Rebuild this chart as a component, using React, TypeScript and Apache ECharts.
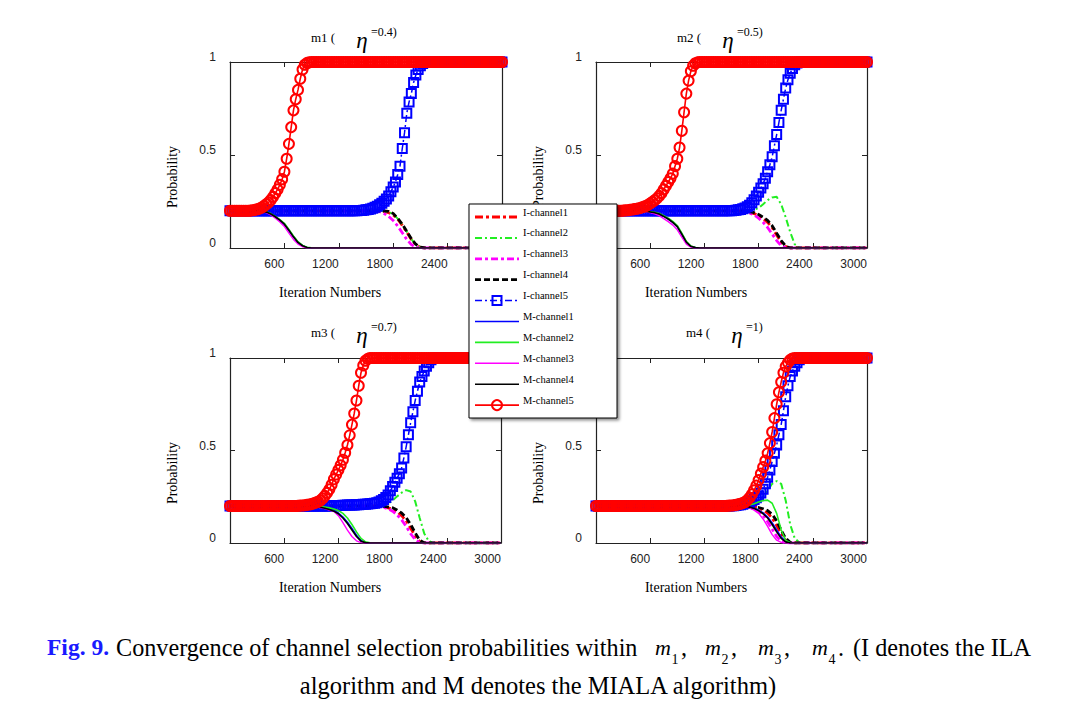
import React, { useEffect, useRef } from 'react';
import * as echarts from 'echarts';

// Iteration numbers for the plain-line series (step 50)
const ITER = [
  0, 50, 100, 150, 200, 250, 300, 350, 400, 450,
  500, 550, 600, 650, 700, 750, 800, 850, 900, 950,
  1000, 1050, 1100, 1150, 1200, 1250, 1300, 1350, 1400, 1450,
  1500, 1550, 1600, 1650, 1700, 1750, 1800, 1850, 1900, 1950,
  2000, 2050, 2100, 2150, 2200, 2250, 2300, 2350, 2400, 2450,
  2500, 2550, 2600, 2650, 2700, 2750, 2800, 2850, 2900, 2950, 3000,
];
// Iteration numbers for the marker series (step 25)
const ITER_M = [
  0, 25, 50, 75, 100, 125, 150, 175, 200, 225, 250, 275, 300, 325, 350, 375, 400, 425, 450, 475,
  500, 525, 550, 575, 600, 625, 650, 675, 700, 725, 750, 775, 800, 825, 850, 875, 900, 925, 950, 975,
  1000, 1025, 1050, 1075, 1100, 1125, 1150, 1175, 1200, 1225, 1250, 1275, 1300, 1325, 1350, 1375, 1400, 1425, 1450, 1475,
  1500, 1525, 1550, 1575, 1600, 1625, 1650, 1675, 1700, 1725, 1750, 1775, 1800, 1825, 1850, 1875, 1900, 1925, 1950, 1975,
  2000, 2025, 2050, 2075, 2100, 2125, 2150, 2175, 2200, 2225, 2250, 2275, 2300, 2325, 2350, 2375, 2400, 2425, 2450, 2475,
  2500, 2525, 2550, 2575, 2600, 2625, 2650, 2675, 2700, 2725, 2750, 2775, 2800, 2825, 2850, 2875, 2900, 2925, 2950, 2975, 3000,
];

// ---------- m1 (eta = 0.4) ----------
const P1_I1 = [
  .2, .2, .2, .2, .2, .2, .2, .2, .2, .2,
  .2, .2, .2, .2, .2, .2, .2, .2, .2, .2,
  .2, .2, .2, .2, .2, .2, .2, .2, .2, .2,
  .2, .2, .2, .199, .196, .19, .178, .155, .122, .085,
  .046, .017, .003, 0, 0, 0, 0, 0, 0, 0,
  0, 0, 0, 0, 0, 0, 0, 0, 0, 0, 0,
];
const P1_I2 = [
  .2, .2, .2, .2, .2, .2, .2, .2, .2, .2,
  .2, .2, .2, .2, .2, .2, .2, .2, .2, .2,
  .2, .2, .2, .2, .2, .2, .2, .2, .2, .2,
  .2, .2, .2, .2, .198, .193, .182, .158, .126, .088,
  .048, .018, .004, 0, 0, 0, 0, 0, 0, 0,
  0, 0, 0, 0, 0, 0, 0, 0, 0, 0, 0,
];
const P1_I3 = [
  .2, .2, .2, .2, .2, .2, .2, .2, .2, .2,
  .2, .2, .2, .2, .2, .2, .2, .2, .2, .2,
  .2, .2, .2, .2, .2, .2, .2, .2, .2, .2,
  .2, .2, .199, .195, .185, .17, .148, .118, .082, .046,
  .018, .004, 0, 0, 0, 0, 0, 0, 0, 0,
  0, 0, 0, 0, 0, 0, 0, 0, 0, 0, 0,
];
const P1_I4 = [
  .2, .2, .2, .2, .2, .2, .2, .2, .2, .2,
  .2, .2, .2, .2, .2, .2, .2, .2, .2, .2,
  .2, .2, .2, .2, .2, .2, .2, .2, .2, .2,
  .2, .2, .2, .2, .2, .197, .185, .16, .128, .09,
  .05, .02, .004, 0, 0, 0, 0, 0, 0, 0,
  0, 0, 0, 0, 0, 0, 0, 0, 0, 0, 0,
];
const P1_I5 = [
  .2, .2, .2, .2, .2, .2, .2, .2, .2, .2, .2, .2, .2, .2, .2, .2, .2, .2, .2, .2,
  .2, .2, .2, .2, .2, .2, .2, .2, .2, .2, .2, .2, .2, .2, .2, .2, .2, .2, .2, .2,
  .2, .2, .2, .2, .2, .2, .2, .2, .2, .2, .2, .2, .2, .2, .2, .2, .2, .201, .202, .203,
  .205, .207, .21, .214, .219, .225, .232, .241, .252, .264, .279, .303, .328, .355, .395, .44, .535, .62, .725, .785,
  .83, .89, .93, .96, .98, .992, .998, 1, 1, 1, 1, 1, 1, 1, 1, 1, 1, 1, 1, 1,
  1, 1, 1, 1, 1, 1, 1, 1, 1, 1, 1, 1, 1, 1, 1, 1, 1, 1, 1, 1, 1,
];
const P1_M1 = [
  .2, .2, .2, .2, .2, .2, .2, .198, .193, .183,
  .168, .15, .127, .094, .06, .03, .012, .003, 0, 0,
  0, 0, 0, 0, 0, 0, 0, 0, 0, 0,
  0, 0, 0, 0, 0, 0, 0, 0, 0, 0,
  0, 0, 0, 0, 0, 0, 0, 0, 0, 0,
  0, 0, 0, 0, 0, 0, 0, 0, 0, 0, 0,
];
const P1_M2 = [
  .2, .2, .2, .2, .2, .2, .2, .198, .194, .185,
  .17, .153, .133, .1, .065, .034, .014, .004, .001, 0,
  0, 0, 0, 0, 0, 0, 0, 0, 0, 0,
  0, 0, 0, 0, 0, 0, 0, 0, 0, 0,
  0, 0, 0, 0, 0, 0, 0, 0, 0, 0,
  0, 0, 0, 0, 0, 0, 0, 0, 0, 0, 0,
];
const P1_M3 = [
  .2, .2, .2, .2, .2, .2, .2, .197, .19, .178,
  .16, .14, .115, .08, .046, .021, .007, .001, 0, 0,
  0, 0, 0, 0, 0, 0, 0, 0, 0, 0,
  0, 0, 0, 0, 0, 0, 0, 0, 0, 0,
  0, 0, 0, 0, 0, 0, 0, 0, 0, 0,
  0, 0, 0, 0, 0, 0, 0, 0, 0, 0, 0,
];
const P1_M4 = [
  .2, .2, .2, .2, .2, .2, .2, .198, .193, .183,
  .168, .15, .128, .095, .06, .03, .012, .003, 0, 0,
  0, 0, 0, 0, 0, 0, 0, 0, 0, 0,
  0, 0, 0, 0, 0, 0, 0, 0, 0, 0,
  0, 0, 0, 0, 0, 0, 0, 0, 0, 0,
  0, 0, 0, 0, 0, 0, 0, 0, 0, 0, 0,
];
const P1_M5 = [
  .2, .2, .2, .2, .2, .2, .2, .2, .2, .201, .203, .205, .208, .212, .218, .226, .235, .245, .258, .275,
  .295, .315, .34, .37, .41, .48, .56, .65, .74, .8, .85, .91, .96, .985, .995, .998, 1, 1, 1, 1,
  1, 1, 1, 1, 1, 1, 1, 1, 1, 1, 1, 1, 1, 1, 1, 1, 1, 1, 1, 1,
  1, 1, 1, 1, 1, 1, 1, 1, 1, 1, 1, 1, 1, 1, 1, 1, 1, 1, 1, 1,
  1, 1, 1, 1, 1, 1, 1, 1, 1, 1, 1, 1, 1, 1, 1, 1, 1, 1, 1, 1,
  1, 1, 1, 1, 1, 1, 1, 1, 1, 1, 1, 1, 1, 1, 1, 1, 1, 1, 1, 1, 1,
];

// ---------- m2 (eta = 0.5) ----------
const P2_I1 = [
  .2, .2, .2, .2, .2, .2, .2, .2, .2, .2,
  .2, .2, .2, .2, .2, .2, .2, .2, .2, .2,
  .2, .2, .2, .2, .2, .2, .2, .2, .2, .2,
  .2, .2, .2, .199, .193, .185, .175, .158, .138, .11,
  .07, .032, .008, 0, 0, 0, 0, 0, 0, 0,
  0, 0, 0, 0, 0, 0, 0, 0, 0, 0, 0,
];
const P2_I2 = [
  .2, .2, .2, .2, .2, .2, .2, .2, .2, .2,
  .2, .2, .2, .2, .2, .2, .2, .2, .2, .2,
  .2, .2, .2, .2, .2, .2, .2, .2, .2, .2,
  .2, .2, .2, .2, .201, .205, .215, .235, .258, .272,
  .275, .235, .165, .085, .02, .002, 0, 0, 0, 0,
  0, 0, 0, 0, 0, 0, 0, 0, 0, 0, 0,
];
const P2_I3 = [
  .2, .2, .2, .2, .2, .2, .2, .2, .2, .2,
  .2, .2, .2, .2, .2, .2, .2, .2, .2, .2,
  .2, .2, .2, .2, .2, .2, .2, .2, .2, .2,
  .2, .2, .2, .195, .188, .178, .16, .138, .11, .075,
  .04, .012, .002, 0, 0, 0, 0, 0, 0, 0,
  0, 0, 0, 0, 0, 0, 0, 0, 0, 0, 0,
];
const P2_I4 = [
  .2, .2, .2, .2, .2, .2, .2, .2, .2, .2,
  .2, .2, .2, .2, .2, .2, .2, .2, .2, .2,
  .2, .2, .2, .2, .2, .2, .2, .2, .2, .2,
  .2, .2, .2, .2, .196, .19, .18, .165, .148, .12,
  .08, .04, .01, 0, 0, 0, 0, 0, 0, 0,
  0, 0, 0, 0, 0, 0, 0, 0, 0, 0, 0,
];
const P2_I5 = [
  .2, .2, .2, .2, .2, .2, .2, .2, .2, .2, .2, .2, .2, .2, .2, .2, .2, .2, .2, .2,
  .2, .2, .2, .2, .2, .2, .2, .2, .2, .2, .2, .2, .2, .2, .2, .2, .2, .2, .2, .2,
  .2, .2, .2, .2, .2, .2, .2, .2, .2, .2, .2, .2, .2, .2, .2, .2, .2, .2, .2, .2,
  .2, .201, .203, .205, .207, .211, .215, .222, .23, .243, .26, .28, .3, .322, .345, .375, .41, .448, .49, .55,
  .61, .675, .74, .8, .86, .905, .94, .965, .985, .995, 1, 1, 1, 1, 1, 1, 1, 1, 1, 1,
  1, 1, 1, 1, 1, 1, 1, 1, 1, 1, 1, 1, 1, 1, 1, 1, 1, 1, 1, 1, 1,
];
const P2_M1 = [
  .2, .2, .2, .2, .2, .2, .2, .2, .2, .2,
  .199, .197, .194, .19, .183, .17, .156, .138, .115, .074,
  .031, .008, .002, 0, 0, 0, 0, 0, 0, 0,
  0, 0, 0, 0, 0, 0, 0, 0, 0, 0,
  0, 0, 0, 0, 0, 0, 0, 0, 0, 0,
  0, 0, 0, 0, 0, 0, 0, 0, 0, 0, 0,
];
const P2_M2 = [
  .2, .2, .2, .2, .2, .2, .2, .2, .2, .2,
  .199, .198, .195, .192, .186, .174, .16, .143, .121, .08,
  .036, .011, .003, 0, 0, 0, 0, 0, 0, 0,
  0, 0, 0, 0, 0, 0, 0, 0, 0, 0,
  0, 0, 0, 0, 0, 0, 0, 0, 0, 0,
  0, 0, 0, 0, 0, 0, 0, 0, 0, 0, 0,
];
const P2_M3 = [
  .2, .2, .2, .2, .2, .2, .2, .2, .2, .2,
  .198, .195, .19, .184, .174, .158, .142, .123, .098, .058,
  .021, .005, 0, 0, 0, 0, 0, 0, 0, 0,
  0, 0, 0, 0, 0, 0, 0, 0, 0, 0,
  0, 0, 0, 0, 0, 0, 0, 0, 0, 0,
  0, 0, 0, 0, 0, 0, 0, 0, 0, 0, 0,
];
const P2_M4 = [
  .2, .2, .2, .2, .2, .2, .2, .2, .2, .2,
  .199, .197, .194, .19, .183, .17, .156, .138, .115, .075,
  .032, .009, .002, 0, 0, 0, 0, 0, 0, 0,
  0, 0, 0, 0, 0, 0, 0, 0, 0, 0,
  0, 0, 0, 0, 0, 0, 0, 0, 0, 0,
  0, 0, 0, 0, 0, 0, 0, 0, 0, 0, 0,
];
const P2_M5 = [
  .2, .2, .2, .2, .2, .2, .2, .2, .2, .2, .2, .2, .201, .202, .203, .205, .207, .209, .211, .214,
  .217, .221, .226, .232, .24, .248, .257, .267, .28, .295, .315, .335, .355, .375, .4, .44, .48, .54, .63, .73,
  .83, .9, .95, .98, .993, .998, 1, 1, 1, 1, 1, 1, 1, 1, 1, 1, 1, 1, 1, 1,
  1, 1, 1, 1, 1, 1, 1, 1, 1, 1, 1, 1, 1, 1, 1, 1, 1, 1, 1, 1,
  1, 1, 1, 1, 1, 1, 1, 1, 1, 1, 1, 1, 1, 1, 1, 1, 1, 1, 1, 1,
  1, 1, 1, 1, 1, 1, 1, 1, 1, 1, 1, 1, 1, 1, 1, 1, 1, 1, 1, 1, 1,
];

// ---------- m3 (eta = 0.7) ----------
const P3_I1 = [
  .2, .2, .2, .2, .2, .2, .2, .2, .2, .2,
  .2, .2, .2, .2, .2, .2, .2, .2, .2, .2,
  .2, .2, .2, .2, .2, .2, .2, .2, .2, .2,
  .2, .2, .2, .2, .196, .19, .183, .168, .148, .12,
  .08, .038, .008, 0, 0, 0, 0, 0, 0, 0,
  0, 0, 0, 0, 0, 0, 0, 0, 0, 0, 0,
];
const P3_I2 = [
  .2, .2, .2, .2, .2, .2, .2, .2, .2, .2,
  .2, .2, .2, .2, .2, .2, .2, .2, .2, .2,
  .2, .2, .2, .2, .2, .2, .2, .2, .2, .2,
  .2, .2, .2, .2, .204, .213, .23, .252, .272, .286,
  .278, .225, .135, .052, .01, .001, 0, 0, 0, 0,
  0, 0, 0, 0, 0, 0, 0, 0, 0, 0, 0,
];
const P3_I3 = [
  .2, .2, .2, .2, .2, .2, .2, .2, .2, .2,
  .2, .2, .2, .2, .2, .2, .2, .2, .2, .2,
  .2, .2, .2, .2, .2, .2, .2, .2, .2, .2,
  .2, .2, .2, .198, .193, .185, .172, .152, .125, .09,
  .05, .018, .003, 0, 0, 0, 0, 0, 0, 0,
  0, 0, 0, 0, 0, 0, 0, 0, 0, 0, 0,
];
const P3_I4 = [
  .2, .2, .2, .2, .2, .2, .2, .2, .2, .2,
  .2, .2, .2, .2, .2, .2, .2, .2, .2, .2,
  .2, .2, .2, .2, .2, .2, .2, .2, .2, .2,
  .2, .2, .2, .2, .198, .195, .19, .178, .162, .138,
  .1, .055, .015, .002, 0, 0, 0, 0, 0, 0,
  0, 0, 0, 0, 0, 0, 0, 0, 0, 0, 0,
];
const P3_I5 = [
  .2, .2, .2, .2, .2, .2, .2, .2, .2, .2, .2, .2, .2, .2, .2, .2, .2, .2, .2, .2,
  .2, .2, .2, .2, .2, .2, .2, .2, .2, .2, .2, .2, .2, .2, .2, .2, .2, .2, .2, .2,
  .2, .2, .2, .2, .2, .201, .202, .202, .203, .203, .204, .204, .205, .205, .206, .206, .207, .207, .208, .209,
  .21, .211, .212, .213, .215, .218, .222, .228, .235, .246, .26, .282, .305, .328, .35, .375, .405, .46, .52, .585,
  .65, .71, .77, .82, .87, .9, .93, .955, .975, .99, .998, 1, 1, 1, 1, 1, 1, 1, 1, 1,
  1, 1, 1, 1, 1, 1, 1, 1, 1, 1, 1, 1, 1, 1, 1, 1, 1, 1, 1, 1, 1,
];
const P3_M1 = [
  .2, .2, .2, .2, .2, .2, .2, .2, .2, .2,
  .2, .2, .2, .2, .2, .2, .2, .2, .2, .198,
  .195, .19, .184, .175, .162, .14, .112, .078, .042, .013,
  .003, 0, 0, 0, 0, 0, 0, 0, 0, 0,
  0, 0, 0, 0, 0, 0, 0, 0, 0, 0,
  0, 0, 0, 0, 0, 0, 0, 0, 0, 0, 0,
];
const P3_M2 = [
  .2, .2, .2, .2, .2, .2, .2, .2, .2, .2,
  .2, .2, .2, .2, .2, .2, .2, .2, .2, .199,
  .197, .194, .19, .184, .175, .16, .135, .1, .06, .025,
  .006, .001, 0, 0, 0, 0, 0, 0, 0, 0,
  0, 0, 0, 0, 0, 0, 0, 0, 0, 0,
  0, 0, 0, 0, 0, 0, 0, 0, 0, 0, 0,
];
const P3_M3 = [
  .2, .2, .2, .2, .2, .2, .2, .2, .2, .2,
  .2, .2, .2, .2, .2, .2, .2, .2, .198, .196,
  .192, .186, .178, .17, .148, .11, .07, .035, .012, .002,
  0, 0, 0, 0, 0, 0, 0, 0, 0, 0,
  0, 0, 0, 0, 0, 0, 0, 0, 0, 0,
  0, 0, 0, 0, 0, 0, 0, 0, 0, 0, 0,
];
const P3_M4 = [
  .2, .2, .2, .2, .2, .2, .2, .2, .2, .2,
  .2, .2, .2, .2, .2, .2, .2, .2, .2, .197,
  .193, .188, .181, .172, .158, .135, .105, .07, .035, .01,
  .002, 0, 0, 0, 0, 0, 0, 0, 0, 0,
  0, 0, 0, 0, 0, 0, 0, 0, 0, 0,
  0, 0, 0, 0, 0, 0, 0, 0, 0, 0, 0,
];
const P3_M5 = [
  .2, .2, .2, .2, .2, .2, .2, .2, .2, .2, .2, .2, .2, .2, .2, .2, .2, .2, .2, .2,
  .2, .2, .2, .2, .2, .2, .2, .2, .2, .2, .201, .202, .203, .204, .206, .208, .21, .214, .218, .223,
  .23, .241, .255, .271, .29, .315, .345, .37, .395, .42, .45, .488, .53, .582, .64, .7, .77, .85, .92, .96,
  .985, .995, 1, 1, 1, 1, 1, 1, 1, 1, 1, 1, 1, 1, 1, 1, 1, 1, 1, 1,
  1, 1, 1, 1, 1, 1, 1, 1, 1, 1, 1, 1, 1, 1, 1, 1, 1, 1, 1, 1,
  1, 1, 1, 1, 1, 1, 1, 1, 1, 1, 1, 1, 1, 1, 1, 1, 1, 1, 1, 1, 1,
];

// ---------- m4 (eta = 1) ----------
const P4_I1 = [
  .2, .2, .2, .2, .2, .2, .2, .2, .2, .2,
  .2, .2, .2, .2, .2, .2, .2, .2, .2, .2,
  .2, .2, .2, .2, .2, .2, .2, .2, .2, .2,
  .2, .2, .2, .2, .2, .195, .188, .178, .162, .135,
  .095, .05, .015, .002, 0, 0, 0, 0, 0, 0,
  0, 0, 0, 0, 0, 0, 0, 0, 0, 0, 0,
];
const P4_I2 = [
  .2, .2, .2, .2, .2, .2, .2, .2, .2, .2,
  .2, .2, .2, .2, .2, .2, .2, .2, .2, .2,
  .2, .2, .2, .2, .2, .2, .2, .2, .2, .2,
  .2, .2, .2, .2, .203, .21, .225, .25, .285, .32,
  .335, .32, .23, .1, .025, .003, 0, 0, 0, 0,
  0, 0, 0, 0, 0, 0, 0, 0, 0, 0, 0,
];
const P4_I3 = [
  .2, .2, .2, .2, .2, .2, .2, .2, .2, .2,
  .2, .2, .2, .2, .2, .2, .2, .2, .2, .2,
  .2, .2, .2, .2, .2, .2, .2, .2, .2, .2,
  .2, .2, .2, .2, .193, .185, .17, .15, .115, .075,
  .035, .01, .001, 0, 0, 0, 0, 0, 0, 0,
  0, 0, 0, 0, 0, 0, 0, 0, 0, 0, 0,
];
const P4_I4 = [
  .2, .2, .2, .2, .2, .2, .2, .2, .2, .2,
  .2, .2, .2, .2, .2, .2, .2, .2, .2, .2,
  .2, .2, .2, .2, .2, .2, .2, .2, .2, .2,
  .2, .2, .2, .2, .198, .196, .192, .185, .175, .155,
  .12, .07, .025, .004, 0, 0, 0, 0, 0, 0,
  0, 0, 0, 0, 0, 0, 0, 0, 0, 0, 0,
];
const P4_I5 = [
  .2, .2, .2, .2, .2, .2, .2, .2, .2, .2, .2, .2, .2, .2, .2, .2, .2, .2, .2, .2,
  .2, .2, .2, .2, .2, .2, .2, .2, .2, .2, .2, .2, .2, .2, .2, .2, .2, .2, .2, .2,
  .2, .2, .2, .2, .2, .2, .2, .2, .2, .2, .2, .2, .2, .2, .2, .2, .2, .2, .2, .2,
  .201, .202, .203, .205, .207, .21, .213, .217, .222, .228, .235, .244, .255, .27, .29, .32, .355, .395, .44, .485,
  .53, .585, .64, .715, .79, .85, .9, .93, .955, .975, .99, .997, 1, 1, 1, 1, 1, 1, 1, 1,
  1, 1, 1, 1, 1, 1, 1, 1, 1, 1, 1, 1, 1, 1, 1, 1, 1, 1, 1, 1, 1,
];
const P4_M1 = [
  .2, .2, .2, .2, .2, .2, .2, .2, .2, .2,
  .2, .2, .2, .2, .2, .2, .2, .2, .2, .2,
  .2, .2, .2, .2, .2, .2, .2, .2, .2, .2,
  .2, .2, .2, .199, .196, .189, .178, .163, .14, .108,
  .07, .032, .009, .001, 0, 0, 0, 0, 0, 0,
  0, 0, 0, 0, 0, 0, 0, 0, 0, 0, 0,
];
const P4_M2 = [
  .2, .2, .2, .2, .2, .2, .2, .2, .2, .2,
  .2, .2, .2, .2, .2, .2, .2, .2, .2, .2,
  .2, .2, .2, .2, .2, .2, .2, .2, .2, .2,
  .2, .2, .2, .202, .205, .212, .222, .23, .232, .215,
  .16, .07, .015, .002, 0, 0, 0, 0, 0, 0,
  0, 0, 0, 0, 0, 0, 0, 0, 0, 0, 0,
];
const P4_M3 = [
  .2, .2, .2, .2, .2, .2, .2, .2, .2, .2,
  .2, .2, .2, .2, .2, .2, .2, .2, .2, .2,
  .2, .2, .2, .2, .2, .2, .2, .2, .2, .2,
  .2, .2, .198, .195, .19, .178, .16, .13, .09, .045,
  .015, .003, 0, 0, 0, 0, 0, 0, 0, 0,
  0, 0, 0, 0, 0, 0, 0, 0, 0, 0, 0,
];
const P4_M4 = [
  .2, .2, .2, .2, .2, .2, .2, .2, .2, .2,
  .2, .2, .2, .2, .2, .2, .2, .2, .2, .2,
  .2, .2, .2, .2, .2, .2, .2, .2, .2, .2,
  .2, .2, .2, .198, .194, .186, .175, .158, .135, .1,
  .06, .025, .006, 0, 0, 0, 0, 0, 0, 0,
  0, 0, 0, 0, 0, 0, 0, 0, 0, 0, 0,
];
const P4_M5 = [
  .2, .2, .2, .2, .2, .2, .2, .2, .2, .2, .2, .2, .2, .2, .2, .2, .2, .2, .2, .2,
  .2, .2, .2, .2, .2, .2, .2, .2, .2, .2, .2, .2, .2, .2, .2, .2, .2, .2, .2, .2,
  .2, .2, .2, .2, .2, .2, .2, .2, .2, .2, .2, .2, .2, .2, .2, .2, .2, .2, .201, .202,
  .203, .204, .206, .209, .212, .216, .222, .232, .245, .263, .285, .31, .34, .375, .41, .445, .485, .54, .6, .675,
  .75, .815, .87, .92, .955, .975, .99, .997, 1, 1, 1, 1, 1, 1, 1, 1, 1, 1, 1, 1,
  1, 1, 1, 1, 1, 1, 1, 1, 1, 1, 1, 1, 1, 1, 1, 1, 1, 1, 1, 1, 1,
];

const SERIES_NAMES = [
  'I-channel1', 'I-channel2', 'I-channel3', 'I-channel4', 'I-channel5',
  'M-channel1', 'M-channel2', 'M-channel3', 'M-channel4', 'M-channel5',
];
const PANEL_DATA = [
  [P1_I1, P1_I2, P1_I3, P1_I4, P1_I5, P1_M1, P1_M2, P1_M3, P1_M4, P1_M5],
  [P2_I1, P2_I2, P2_I3, P2_I4, P2_I5, P2_M1, P2_M2, P2_M3, P2_M4, P2_M5],
  [P3_I1, P3_I2, P3_I3, P3_I4, P3_I5, P3_M1, P3_M2, P3_M3, P3_M4, P3_M5],
  [P4_I1, P4_I2, P4_I3, P4_I4, P4_I5, P4_M1, P4_M2, P4_M3, P4_M4, P4_M5],
];
const TITLE_HEADS = ['m1 (', 'm2 (', 'm3 (', 'm4 ('];
const TITLE_ETAS = ['=0.4)', '=0.5)', '=0.7)', '=1)'];
const X_NAME = 'Iteration Numbers';
const Y_NAME = 'Probability';
const CAPTION_FIG = 'Fig. 9.';
const CAPTION_MAIN = 'Convergence of channel selection probabilities within';
const CAPTION_SUBS = ['1', '2', '3', '4'];
const CAPTION_END = '(I denotes the ILA';
const CAPTION_LINE2 = 'algorithm and M denotes the MIALA algorithm)';

// ---------- layout & style (not data) ----------
const SERIF = "'Liberation Serif', 'Times New Roman', Times, serif";
const SANS = "'Liberation Sans', Arial, Helvetica, sans-serif";
const GRIDS = [
  { left: 230, top: 62, width: 272, height: 186 },
  { left: 596, top: 62, width: 271, height: 186 },
  { left: 230, top: 358, width: 271, height: 185 },
  { left: 596, top: 358, width: 271, height: 185 },
];
const TITLE_SHIFT = [0, 0, 0, 9];
const STYLES: any[] = [
  { color: '#ff0000', width: 2.8, type: [8, 3, 3, 3] },
  { color: '#22ee22', width: 2, type: [7, 3, 2, 3] },
  { color: '#ff00ff', width: 2.8, type: [7, 3, 3, 3] },
  { color: '#000000', width: 2.8, type: [6, 3] },
  { color: '#0000ff', width: 1.5, type: [7, 3, 2, 3], symbol: 'rect', size: 9, marker: true },
  { color: '#0000ff', width: 1.6, type: 'solid' },
  { color: '#22ee22', width: 1.6, type: 'solid' },
  { color: '#ff00ff', width: 1.4, type: 'solid' },
  { color: '#000000', width: 1.6, type: 'solid' },
  { color: '#ff0000', width: 1.6, type: 'solid', symbol: 'circle', size: 10, marker: true },
];
const AXIS_COLOR = '#222';
const LEGEND_BOX = { x: 469, y: 204, width: 148, height: 214 };
const LEGEND_ROW0 = 217;
const LEGEND_STEP = 20.9;

function buildOption() {
  const grid: any[] = [];
  const xAxis: any[] = [];
  const yAxis: any[] = [];
  const series: any[] = [];
  const graphic: any[] = [];

  GRIDS.forEach((g, k) => {
    grid.push({ ...g, containLabel: false });
    const lineCommon = { show: true, onZero: false, lineStyle: { color: AXIS_COLOR, width: 1.2 } };
    const tickCommon = { show: true, inside: true, length: 5, lineStyle: { color: AXIS_COLOR, width: 1 } };
    xAxis.push({
      gridIndex: k, type: 'value', min: 0, max: 3000, interval: 600, position: 'bottom',
      axisLine: lineCommon, axisTick: tickCommon, splitLine: { show: false },
      axisLabel: {
        showMinLabel: false, color: '#222', fontSize: 12, fontFamily: SANS, margin: 10, align: 'right',
        formatter: (v: number) => String(v),
      },
    });
    xAxis.push({
      gridIndex: k, type: 'value', min: 0, max: 3000, interval: 600, position: 'top',
      axisLine: lineCommon, axisTick: tickCommon, splitLine: { show: false }, axisLabel: { show: false },
    });
    yAxis.push({
      gridIndex: k, type: 'value', min: 0, max: 1, interval: 0.5, position: 'left',
      axisLine: lineCommon, axisTick: tickCommon, splitLine: { show: false },
      axisLabel: {
        color: '#222', fontSize: 12, fontFamily: SANS, margin: 14, verticalAlign: 'bottom', lineHeight: 10,
        formatter: (v: number) => String(v),
      },
    });
    yAxis.push({
      gridIndex: k, type: 'value', min: 0, max: 1, interval: 0.5, position: 'right',
      axisLine: lineCommon, axisTick: tickCommon, splitLine: { show: false }, axisLabel: { show: false },
    });

    PANEL_DATA[k].forEach((arr, j) => {
      const s = STYLES[j];
      const xs = s.marker ? ITER_M : ITER;
      series.push({
        type: 'line',
        name: SERIES_NAMES[j],
        xAxisIndex: 2 * k,
        yAxisIndex: 2 * k,
        data: xs.map((x, i) => [x, arr[i]]),
        symbol: s.symbol || 'none',
        symbolSize: s.size || 0,
        showSymbol: !!s.symbol,
        showAllSymbol: true,
        lineStyle: { color: s.color, width: s.width, type: s.type },
        itemStyle: { color: 'rgba(255,255,255,0)', borderColor: s.color, borderWidth: 2 },
        emphasis: { disabled: true },
        silent: true,
        z: 2 + j * 0.01,
      });
    });

    const L = g.left;
    const T = g.top;
    const dT = k < 2 ? 0 : -1;
    const sh = TITLE_SHIFT[k];
    graphic.push({
      type: 'text', x: L + 81 + sh, y: T - 25 + dT,
      style: { text: TITLE_HEADS[k], fill: '#000', fontSize: 13, fontFamily: SERIF, textAlign: 'left', textVerticalAlign: 'middle' },
    });
    graphic.push({
      type: 'text', x: L + 132 + sh, y: T - 22 + dT,
      style: { text: 'η', fill: '#000', fontSize: 23, fontStyle: 'italic', fontFamily: SERIF, textAlign: 'center', textVerticalAlign: 'middle' },
    });
    graphic.push({
      type: 'text', x: L + 141 + sh, y: T - 30 + dT,
      style: { text: TITLE_ETAS[k], fill: '#000', fontSize: 12, fontFamily: SERIF, textAlign: 'left', textVerticalAlign: 'middle' },
    });
    graphic.push({
      type: 'text', x: L + 100, y: T + 230 - (k < 2 ? 0 : 1),
      style: { text: X_NAME, fill: '#000', fontSize: 14, fontFamily: SERIF, textAlign: 'center', textVerticalAlign: 'middle' },
    });
    graphic.push({
      type: 'text', x: L - 58, y: T + 115, rotation: Math.PI / 2,
      style: { text: Y_NAME, fill: '#000', fontSize: 14, fontFamily: SERIF, textAlign: 'center', textVerticalAlign: 'middle' },
    });
  });

  // ---- legend box (drawn on top of the plots) ----
  graphic.push({
    type: 'rect', z: 100,
    shape: { ...LEGEND_BOX },
    style: {
      fill: '#fff', stroke: '#000', lineWidth: 1,
      shadowBlur: 3, shadowColor: 'rgba(0,0,0,0.45)', shadowOffsetX: 2, shadowOffsetY: 2,
    },
  });
  SERIES_NAMES.forEach((name, j) => {
    const s = STYLES[j];
    const y = LEGEND_ROW0 + j * LEGEND_STEP;
    graphic.push({
      type: 'line', z: 101,
      shape: { x1: 475, y1: y, x2: 519, y2: y },
      style: { stroke: s.color, lineWidth: s.width, lineDash: s.type === 'solid' ? null : s.type },
    });
    if (s.symbol === 'rect') {
      graphic.push({
        type: 'rect', z: 102,
        shape: { x: 497 - 4.5, y: y - 4.5, width: 9, height: 9 },
        style: { fill: 'rgba(255,255,255,0)', stroke: s.color, lineWidth: 2 },
      });
    } else if (s.symbol === 'circle') {
      graphic.push({
        type: 'circle', z: 102,
        shape: { cx: 497, cy: y, r: 5 },
        style: { fill: 'rgba(255,255,255,0)', stroke: s.color, lineWidth: 2 },
      });
    }
    graphic.push({
      type: 'text', z: 102, x: 523, y: y - 5,
      style: { text: name, fill: '#000', fontSize: 10.5, fontFamily: SERIF, textAlign: 'left', textVerticalAlign: 'middle' },
    });
  });

  // ---- caption ----
  const CAP = 24.2;
  graphic.push({
    type: 'text', x: 47, y: 647,
    style: { text: CAPTION_FIG, fill: '#1a1aff', fontSize: CAP - 0.7, fontWeight: 'bold', fontFamily: SERIF, textAlign: 'left', textVerticalAlign: 'middle' },
  });
  graphic.push({
    type: 'text', x: 116, y: 647,
    style: { text: CAPTION_MAIN, fill: '#000', fontSize: CAP, fontFamily: SERIF, textAlign: 'left', textVerticalAlign: 'middle' },
  });
  const mX = [655, 705, 758, 812];
  CAPTION_SUBS.forEach((sub, i) => {
    const x0 = mX[i];
    graphic.push({
      type: 'text', x: x0, y: 647.5,
      style: { text: 'm', fill: '#000', fontSize: 22, fontStyle: 'italic', fontFamily: SERIF, textAlign: 'left', textVerticalAlign: 'middle' },
    });
    graphic.push({
      type: 'text', x: x0 + 16.5, y: 659,
      style: { text: sub, fill: '#000', fontSize: 14, fontFamily: SERIF, textAlign: 'left', textVerticalAlign: 'middle' },
    });
    graphic.push({
      type: 'text', x: x0 + 26, y: 647,
      style: { text: i < 3 ? ',' : '.', fill: '#000', fontSize: CAP, fontFamily: SERIF, textAlign: 'left', textVerticalAlign: 'middle' },
    });
  });
  graphic.push({
    type: 'text', x: 853, y: 647,
    style: { text: CAPTION_END, fill: '#000', fontSize: CAP, fontFamily: SERIF, textAlign: 'left', textVerticalAlign: 'middle' },
  });
  graphic.push({
    type: 'text', x: 538, y: 685,
    style: { text: CAPTION_LINE2, fill: '#000', fontSize: CAP + 0.3, fontFamily: SERIF, textAlign: 'center', textVerticalAlign: 'middle' },
  });

  return {
    animation: false,
    backgroundColor: '#ffffff',
    grid,
    xAxis,
    yAxis,
    series,
    graphic,
  };
}

export default function App() {
  const ref = useRef<HTMLDivElement>(null);
  useEffect(() => {
    if (!ref.current) return;
    const chart = echarts.init(ref.current, undefined, { renderer: 'svg' });
    chart.setOption(buildOption() as any);
    return () => chart.dispose();
  }, []);
  return (
    <div
      ref={ref}
      style={{ position: 'absolute', left: 0, top: 0, width: 1080, height: 712, background: '#fff' }}
    />
  );
}
